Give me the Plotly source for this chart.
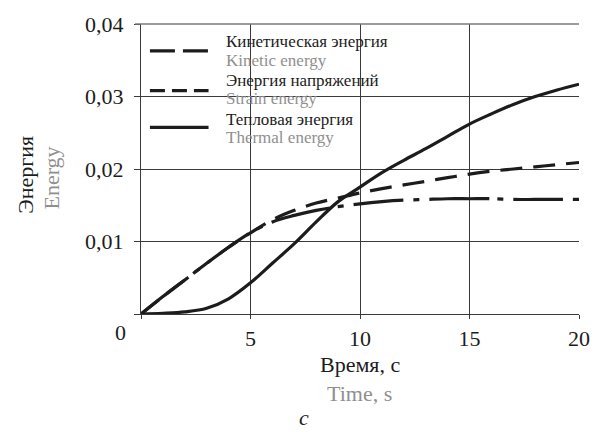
import plotly.graph_objects as go

# Time axis (s)
time_s = [0, 1, 2, 3, 4, 5, 6, 7, 8, 9, 10, 11, 12, 13, 14, 15, 16, 17, 18, 19, 20]

# Energy histories
kinetic = [0, 0.0024, 0.0047, 0.0070, 0.0092, 0.0112, 0.0130, 0.0143, 0.0153, 0.0160,
           0.0167, 0.0173, 0.0178, 0.0183, 0.0188, 0.0193, 0.0197, 0.0200, 0.0203, 0.0206, 0.0209]
strain = [0, 0.0024, 0.0047, 0.0070, 0.0092, 0.0112, 0.0127, 0.0136, 0.0143, 0.0148,
          0.0152, 0.0155, 0.0157, 0.0158, 0.0159, 0.0159, 0.0159, 0.0158, 0.0158, 0.0158, 0.0158]
thermal = [0, 0.0001, 0.0003, 0.0008, 0.0021, 0.0043, 0.0070, 0.0097, 0.0127, 0.0155,
           0.0175, 0.0195, 0.0212, 0.0228, 0.0245, 0.0262, 0.0276, 0.0289, 0.0300, 0.0309, 0.0317]

x_ticks = [0, 5, 10, 15, 20]
x_tick_text = ["", "5", "10", "15", "20"]
y_ticks = [0, 0.01, 0.02, 0.03, 0.04]
y_tick_text = ["", "0,01", "0,02", "0,03", "0,04"]

legend_ru = ["Кинетическая энергия", "Энергия напряжений", "Тепловая энергия"]
legend_en = ["Kinetic energy", "Strain energy", "Thermal energy"]

FONT = "Liberation Serif, DejaVu Serif, serif"
INK = "#1c1c1c"
GREY = "#8f8f8f"
GRID = "#3a3a3a"
W, H = 602, 432
L, R, T, B = 141, 20, 22, 118
PW, PH = W - L - R, H - T - B


def px_x(px):
    return (px - L) / PW


def px_y(py):
    return (H - B - py) / PH


fig = go.Figure()
fig.add_trace(go.Scatter(x=time_s, y=kinetic, mode="lines", line_shape="spline",
                         line=dict(color=INK, width=3.2, dash="22px,11px")))
fig.add_trace(go.Scatter(x=time_s, y=strain, mode="lines", line_shape="spline",
                         line=dict(color=INK, width=3.2, dash="60px,8px,6px,10px,50px,10px,6px,10px")))
fig.add_trace(go.Scatter(x=time_s, y=thermal, mode="lines", line_shape="spline",
                         line=dict(color=INK, width=3.2)))

shapes = []
# white panel behind the legend, above the grid
shapes.append(dict(type="rect", xref="paper", yref="paper", layer="between",
                   x0=px_x(142), x1=px_x(410), y0=px_y(153), y1=px_y(24),
                   line=dict(width=0), fillcolor="white"))
# lighter frame line along the top of the plot
shapes.append(dict(type="line", xref="paper", yref="paper", layer="above",
                   x0=px_x(135), x1=1, y0=1, y1=1,
                   line=dict(color="#7a7a7a", width=1.6)))
# legend keys
key_y = [49, 89, 126]
key_dash = ["25px,8px", "15px,7px", "solid"]
for ky, kd in zip(key_y, key_dash):
    shapes.append(dict(type="line", xref="paper", yref="paper",
                       x0=px_x(150), x1=px_x(209), y0=px_y(ky), y1=px_y(ky),
                       line=dict(color=INK, width=3.2, dash=kd)))

annotations = []
text_y = [(40, 59), (79, 97), (118, 136)]
for (yr, ye), ru, en in zip(text_y, legend_ru, legend_en):
    annotations.append(dict(text=ru, xref="paper", yref="paper", x=px_x(226), y=px_y(yr),
                            xanchor="left", yanchor="middle", showarrow=False, borderpad=0,
                            font=dict(family=FONT, size=17, color=INK)))
    annotations.append(dict(text=en, xref="paper", yref="paper", x=px_x(226), y=px_y(ye),
                            xanchor="left", yanchor="middle", showarrow=False, borderpad=0,
                            font=dict(family=FONT, size=17, color=GREY)))

# shared origin label
annotations.append(dict(text="0", xref="paper", yref="paper", x=px_x(120), y=px_y(333),
                        xanchor="center", yanchor="middle", showarrow=False,
                        font=dict(family=FONT, size=22, color=INK)))
# axis titles
annotations.append(dict(text="Время, с", xref="paper", yref="paper", x=px_x(361), y=px_y(365),
                        xanchor="center", yanchor="middle", showarrow=False,
                        font=dict(family=FONT, size=22, color=INK)))
annotations.append(dict(text="Time, s", xref="paper", yref="paper", x=px_x(361), y=px_y(394),
                        xanchor="center", yanchor="middle", showarrow=False,
                        font=dict(family=FONT, size=22, color=GREY)))
annotations.append(dict(text="Энергия", xref="paper", yref="paper", x=px_x(25), y=px_y(174),
                        xanchor="center", yanchor="middle", showarrow=False, textangle=-90,
                        font=dict(family=FONT, size=22, color=INK)))
annotations.append(dict(text="Energy", xref="paper", yref="paper", x=px_x(51), y=px_y(177),
                        xanchor="center", yanchor="middle", showarrow=False, textangle=-90,
                        font=dict(family=FONT, size=22, color=GREY)))
# panel letter
annotations.append(dict(text="<i>c</i>", xref="paper", yref="paper", x=px_x(305), y=px_y(432),
                        xanchor="center", yanchor="bottom", showarrow=False, borderpad=0,
                        font=dict(family=FONT, size=22, color=INK)))

fig.update_layout(
    width=W, height=H,
    margin=dict(l=L, r=R, t=T, b=B),
    paper_bgcolor="white", plot_bgcolor="white",
    showlegend=False,
    font=dict(family=FONT, size=22, color=INK),
    shapes=shapes, annotations=annotations,
    xaxis=dict(range=[0, 20], tickvals=x_ticks, ticktext=x_tick_text,
               showgrid=True, gridcolor=GRID, gridwidth=1, zeroline=False,
               showline=True, linecolor=GRID, linewidth=1.2,
               ticks="outside", ticklen=4, tickcolor=GRID,
               tickfont=dict(family=FONT, size=22, color=INK)),
    yaxis=dict(range=[0, 0.04], tickvals=y_ticks, ticktext=y_tick_text,
               showgrid=True, gridcolor=GRID, gridwidth=1, zeroline=False,
               showline=True, linecolor=GRID, linewidth=1.2,
               ticks="outside", ticklen=6, tickcolor=GRID,
               ticklabelstandoff=6,
               tickfont=dict(family=FONT, size=22, color=INK)),
)

fig.write_html("out.html")
